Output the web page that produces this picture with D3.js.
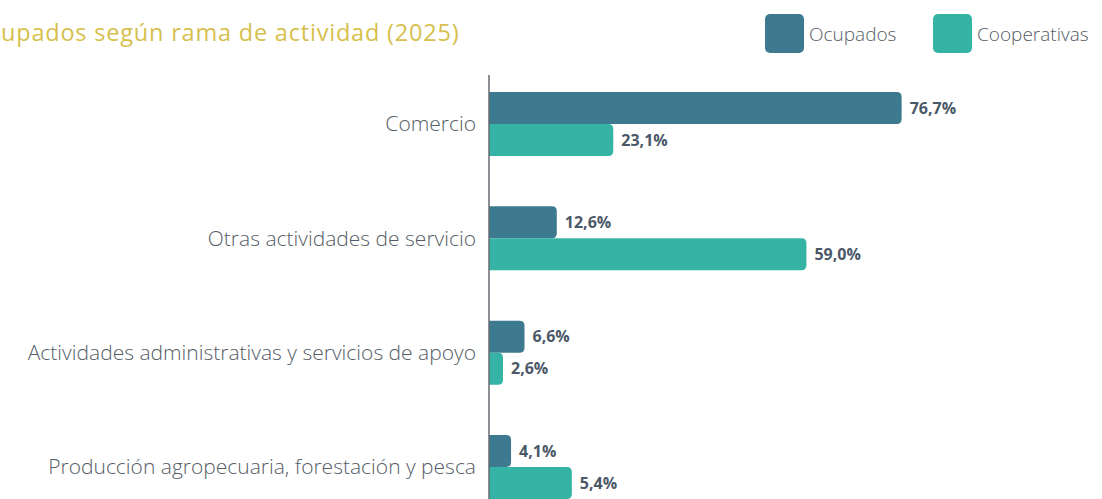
<!DOCTYPE html>
<html>
<head>
<meta charset="utf-8">
<script src="https://cdn.jsdelivr.net/npm/d3@7"></script>
<style>
  html, body { margin: 0; padding: 0; background: #ffffff; }
  svg { display: block; }
</style>
</head>
<body>
<svg id="chart" width="1102" height="499"></svg>
<script>
// ---- data ----
const title = "upados según rama de actividad (2025)";
const categories = [
  "Comercio",
  "Otras actividades de servicio",
  "Actividades administrativas y servicios de apoyo",
  "Producción agropecuaria, forestación y pesca"
];
const seriesNames = ["Ocupados", "Cooperativas"];
const ocupados = [76.7, 12.6, 6.6, 4.1];
const cooperativas = [23.1, 59.0, 2.6, 15.4];
const ocupadosLabels = ["76,7%", "12,6%", "6,6%", "4,1%"];
const cooperativasLabels = ["23,1%", "59,0%", "2,6%", "5,4%"];
const colors = ["#3d7a90", "#35b4a5"];

// ---- layout ----
const W = 1102, H = 499;
const svg = d3.select("#chart");
const x0 = 489;

const x = d3.scaleLinear().domain([0, 100]).range([x0, x0 + 538]);
const y = d3.scaleBand().domain(categories).range([92, 499]).paddingInner(0.44).paddingOuter(0);
const ySub = d3.scaleBand().domain(seriesNames).range([0, y.bandwidth()]).padding(0);

const rows = categories.map((c, i) => ({
  cat: c,
  vals: [
    { s: seriesNames[0], v: ocupados[i], label: ocupadosLabels[i] },
    { s: seriesNames[1], v: cooperativas[i], label: cooperativasLabels[i] }
  ]
}));

function barPath(xs, ys, w, h, r) {
  r = Math.min(r, w, h / 2);
  return `M${xs},${ys}H${xs + w - r}Q${xs + w},${ys} ${xs + w},${ys + r}` +
         `V${ys + h - r}Q${xs + w},${ys + h} ${xs + w - r},${ys + h}H${xs}Z`;
}

// title
svg.append("text")
  .attr("x", 1).attr("y", 41)
  .attr("fill", "#d6bf4c")
  .attr("font-family", "Open Sans")
  .attr("font-weight", 400)
  .attr("font-size", 23.5)
  .attr("letter-spacing", 0.8)
  .text(title);

// legend
const legendItems = [
  { name: seriesNames[0], rx: 765, tx: 809 },
  { name: seriesNames[1], rx: 933, tx: 977 }
];
const lg = svg.append("g");
legendItems.forEach((d, i) => {
  lg.append("rect").attr("x", d.rx).attr("y", 14).attr("width", 39).attr("height", 39)
    .attr("rx", 5).attr("fill", colors[i]);
  lg.append("text").attr("x", d.tx).attr("y", 34).attr("dy", "0.35em")
    .attr("fill", "#555d66").attr("font-family", "Open Sans").attr("font-weight", 300)
    .attr("font-size", 19)
    .text(d.name);
});

// groups
const g = svg.append("g");
const grp = g.selectAll("g.row").data(rows).join("g")
  .attr("class", "row")
  .attr("transform", d => `translate(0,${y(d.cat)})`);

grp.selectAll("path.bar").data(d => d.vals).join("path")
  .attr("class", "bar")
  .attr("fill", (d, i) => colors[i])
  .attr("d", d => barPath(x(0), ySub(d.s), x(d.v) - x(0), ySub.bandwidth(), 5));

grp.selectAll("text.val").data(d => d.vals).join("text")
  .attr("class", "val")
  .attr("x", d => x(d.v) + 8)
  .attr("y", d => ySub(d.s) + ySub.bandwidth() / 2)
  .attr("dy", "0.35em")
  .attr("fill", "#4b5868")
  .attr("font-family", "Open Sans")
  .attr("font-weight", 700)
  .attr("font-size", 16)
  .text(d => d.label);

// category labels
const labelX = x0 - 13;
grp.append("text")
  .attr("x", labelX)
  .attr("y", y.bandwidth() / 2)
  .attr("dy", "0.35em")
  .attr("text-anchor", "end")
  .attr("fill", "#555d66")
  .attr("font-family", "Open Sans")
  .attr("font-weight", 300)
  .attr("font-size", 21)
  .text(d => d.cat);

// axis line
svg.append("line")
  .attr("x1", x0).attr("x2", x0)
  .attr("y1", 75).attr("y2", H)
  .attr("stroke", "#666b70").attr("stroke-width", 1.5);
</script>
</body>
</html>
